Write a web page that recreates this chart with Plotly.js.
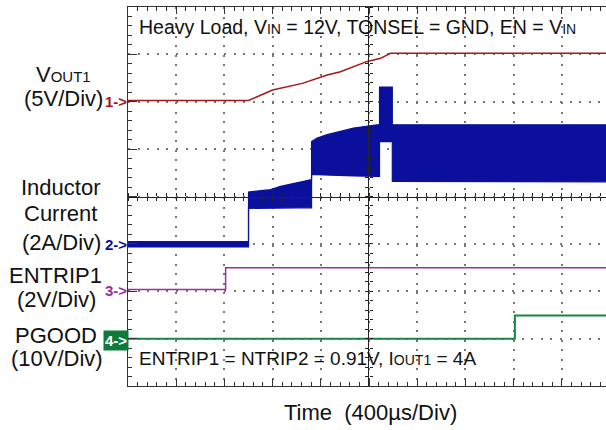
<!DOCTYPE html>
<html>
<head>
<meta charset="utf-8">
<script src="https://cdn.plot.ly/plotly-3.0.1.min.js"></script>
<style>html,body{margin:0;padding:0;background:#fff;}#chart{width:606px;height:430px;}</style>
</head>
<body>
<div id="chart"></div>
<script>
// ---- Data read from the scope capture (time in µs) ----
const tVout = [0, 1000, 1199, 1446, 1653, 1763, 1979, 2095, 2178, 3966];
const vVout = [0.13, 0.13, 1.24, 1.94, 2.82, 3.17, 4.23, 4.58, 5.11, 5.11];        // V

const tIL  = [0, 1000, 1000, 1183, 1266, 1404, 1523, 1523, 1570, 1653, 1763, 1871, 2068, 2087, 2087, 2193, 2193, 3966];
const ilHi = [0.10, 0.10, 2.19, 2.29, 2.43, 2.57, 2.71, 4.32, 4.47, 4.61, 4.75, 4.89, 5.03, 5.03, 6.62, 6.62, 5.03, 5.03]; // A
const ilLo = [-0.13, -0.13, 1.50, 1.52, 1.52, 1.52, 1.52, 2.92, 2.92, 2.90, 2.88, 2.87, 2.85, 2.85, 4.32, 4.32, 2.64, 2.62]; // A

const tEN = [0, 810, 810, 3966];
const vEN = [0.07, 0.07, 0.99, 0.99];      // V

const tPG = [0, 3210, 3210, 3966];
const vPG = [0, 0, 4.9, 4.9];              // V

// ---- Layout helpers ----
const W = 606, H = 430, L = 128, T = 7, B = 44;
const PW = W - L, PH = H - T - B;
const xMax = 3966;
const xc = 2000 / xMax;          // centre division as a fraction of the plot width
const xp = px => (px - L) / PW;
const yp = py => (H - B - py) / PH;

const cV = '#a31818', cI = '#0a0f9c', cE = '#9a2e9e', cP = '#138a43';
const FONT = 'Liberation Sans, Arial, Helvetica, sans-serif';
const empty = (xa, ya) => ({x: [], y: [], xaxis: xa, yaxis: ya, mode: 'lines', hoverinfo: 'skip'});

const traces = [
  empty('x', 'y'),
  empty('x4', 'y'),
  empty('x', 'y8'),
  // centre crosshair subplots
  empty('x5', 'y9'),
  empty('x6', 'y10'),
  empty('x7', 'y11'),
  empty('x8', 'y12'),
  {x: tVout, y: vVout, xaxis: 'x', yaxis: 'y3', mode: 'lines', line: {color: cV, width: 1.5}, hoverinfo: 'skip'},
  {x: tIL, y: ilLo, xaxis: 'x', yaxis: 'y4', mode: 'lines', line: {color: cI, width: 1.2}, hoverinfo: 'skip'},
  {x: tIL, y: ilHi, xaxis: 'x', yaxis: 'y4', mode: 'lines', line: {color: cI, width: 1.2}, fill: 'tonexty', fillcolor: cI, hoverinfo: 'skip'},
  {x: tEN, y: vEN, xaxis: 'x', yaxis: 'y5', mode: 'lines', line: {color: cE, width: 1.5}, hoverinfo: 'skip'},
  {x: tPG, y: vPG, xaxis: 'x', yaxis: 'y6', mode: 'lines', line: {color: cP, width: 2}, hoverinfo: 'skip'}
];

const axCol = '#333';
const gridCol = '#777';
const crossCol = '#222';
const baseX = {range: [0, xMax], showticklabels: false, zeroline: false, showgrid: false};
const baseY = {range: [0, 8], showticklabels: false, zeroline: false, showgrid: false};
const hidden = r => ({range: r, visible: false, showgrid: false, zeroline: false});

const layout = {
  width: W, height: H,
  margin: {l: L, r: 0, t: T, b: B, pad: 0},
  paper_bgcolor: '#fff', plot_bgcolor: 'rgba(0,0,0,0)',
  showlegend: false,
  // frame with small ticks (5 per division)
  xaxis: Object.assign({}, baseX, {
    dtick: 80, tick0: 0, showline: true, linecolor: axCol, linewidth: 1, mirror: 'ticks',
    ticks: 'inside', ticklen: 4, tickcolor: axCol, tickwidth: 1
  }),
  yaxis: Object.assign({}, baseY, {
    dtick: 0.2, tick0: 0, showline: true, linecolor: axCol, linewidth: 1,
    ticks: 'inside', ticklen: 4, tickcolor: axCol, tickwidth: 1
  }),
  // division grid (dotted) with longer frame ticks
  xaxis4: Object.assign({}, baseX, {overlaying: 'x',
    dtick: 400, tick0: 0, showgrid: true, gridcolor: gridCol, gridwidth: 1.5, griddash: '2px,7.5px',
    showline: true, linecolor: axCol, linewidth: 1, mirror: 'ticks',
    ticks: 'inside', ticklen: 7, tickcolor: axCol, tickwidth: 1
  }),
  yaxis8: Object.assign({}, baseY, {overlaying: 'y', anchor: 'x',
    dtick: 1, tick0: 0, showgrid: true, gridcolor: gridCol, gridwidth: 1.5, griddash: '2px,7.6px',
    showline: true, linecolor: axCol, linewidth: 1,
    ticks: 'inside', ticklen: 9, tickcolor: axCol, tickwidth: 1
  }),
  // horizontal centre line: lower half (ticks pointing down) + upper half (ticks pointing up)
  xaxis5: Object.assign({}, baseX, {anchor: 'y9', side: 'bottom', showline: true, linecolor: crossCol, linewidth: 1,
    dtick: 80, tick0: 0, ticks: 'outside', ticklen: 3, tickcolor: crossCol}),
  yaxis9: Object.assign(hidden([0, 1]), {domain: [0.5, 1], anchor: 'x5'}),
  xaxis6: Object.assign({}, baseX, {anchor: 'y10', side: 'top', showline: false,
    dtick: 80, tick0: 0, ticks: 'outside', ticklen: 3, tickcolor: crossCol}),
  yaxis10: Object.assign(hidden([0, 1]), {domain: [0, 0.5], anchor: 'x6'}),
  // vertical centre line: ticks pointing left + ticks pointing right
  xaxis7: Object.assign(hidden([0, 1]), {domain: [xc, 1], anchor: 'y11'}),
  yaxis11: Object.assign({}, baseY, {anchor: 'x7', side: 'left', showline: true, linecolor: crossCol, linewidth: 1,
    dtick: 0.2, tick0: 0, ticks: 'outside', ticklen: 3, tickcolor: crossCol}),
  xaxis8: Object.assign(hidden([0, 1]), {domain: [0, xc], anchor: 'y12'}),
  yaxis12: Object.assign({}, baseY, {anchor: 'x8', side: 'right', showline: false,
    dtick: 0.2, tick0: 0, ticks: 'outside', ticklen: 3, tickcolor: crossCol}),
  // channel scales (8 divisions tall)
  yaxis3: {overlaying: 'y', range: [-30, 10], visible: false},   // 5 V/div, ch1 at div 6
  yaxis4: {overlaying: 'y', range: [-6, 10], visible: false},    // 2 A/div, ch2 at div 3
  yaxis5: {overlaying: 'y', range: [-4, 12], visible: false},    // 2 V/div, ch3 at div 2
  yaxis6: {overlaying: 'y', range: [-10, 70], visible: false},   // 10 V/div, ch4 at div 1
  annotations: []
};

function label(text, px, py, size, color, anchor, extra) {
  layout.annotations.push(Object.assign({
    text: text, xref: 'paper', yref: 'paper', x: xp(px), y: yp(py),
    xanchor: anchor || 'center', yanchor: 'middle', showarrow: false,
    font: {family: FONT, size: size, color: color || '#111'}
  }, extra || {}));
}

label('Heavy Load, V<span style="font-size:14px">IN</span> = 12V, TONSEL = GND, EN = V<span style="font-size:14px">IN</span>', 137, 27, 19.5, '#111', 'left');
label('ENTRIP1 = NTRIP2 = 0.91V, I<span style="font-size:14px">OUT1</span> = 4A', 137, 358, 19, '#111', 'left');
label('Time  (400µs/Div)', 370, 412, 22);

label('V<span style="font-size:15px">OUT1</span>', 63, 75, 22);
label('(5V/Div)', 63.5, 98, 22);
label('Inductor', 61, 187, 22);
label('Current', 60, 213, 22);
label('(2A/Div)', 61, 242, 22);
label('ENTRIP1', 55.5, 275, 22);
label('(2V/Div)', 56, 299, 22);
label('PGOOD', 56, 335, 22);
label('(10V/Div)', 56.5, 358, 22);

label('<b>1-&gt;</b>', 103, 101, 15, cV, 'left');
label('<b>2-&gt;</b>', 103, 244, 15, cI, 'left');
label('<b>3-&gt;</b>', 103, 290, 15, cE, 'left');
label('<b>4-&gt;</b>', 103, 340, 15, '#fff', 'left', {bgcolor: '#0e7a3c', borderpad: 1});

Plotly.newPlot('chart', traces, layout, {displayModeBar: false});
</script>
</body>
</html>
